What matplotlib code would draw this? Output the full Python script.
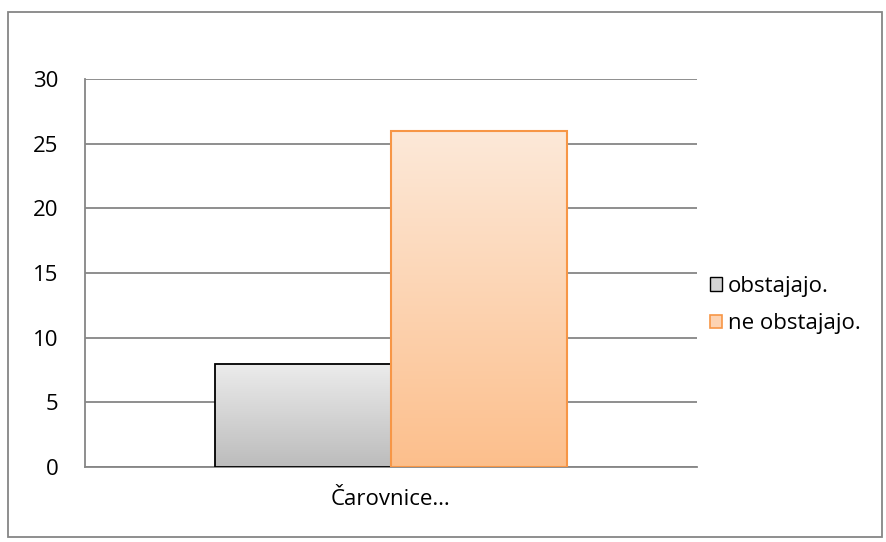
import numpy as np
import matplotlib
matplotlib.use('Agg')
import matplotlib.pyplot as plt
from matplotlib.patches import Rectangle, Patch
from matplotlib.colors import LinearSegmentedColormap

plt.rcParams['font.family'] = ['Open Sans', 'DejaVu Sans']

# data
category = 'Čarovnice…'
series = ['obstajajo.', 'ne obstajajo.']
values = [8, 26]
yticks = [0, 5, 10, 15, 20, 25, 30]

# styles: (top colour, bottom colour, edge colour)
styles = [('#ececec', '#bcbcbc', '#000000'),
          ('#fde9d9', '#fcbf8c', '#f79646')]

fig = plt.figure(figsize=(8.87, 5.42), dpi=100)
ax = fig.add_axes([85/887, 1 - 467/542, 612/887, 388/542])

# outer chart border
fig.patches.append(Rectangle((8/887, 5/542), 874/887, 525/542, transform=fig.transFigure,
                             fill=False, edgecolor='#868686', lw=1.3))

width = 0.287
offsets = [-width/2, width/2]
grad = np.linspace(0, 1, 256).reshape(-1, 1)
for i, (v, st) in enumerate(zip(values, styles)):
    x0 = offsets[i] - width/2
    cmap = LinearSegmentedColormap.from_list('g%d' % i, [st[0], st[1]])
    ax.imshow(grad, extent=[x0, x0 + width, 0, v], aspect='auto', cmap=cmap,
              origin='upper', zorder=3)
    ax.bar(offsets[i], v, width, facecolor='none', edgecolor=st[2],
           lw=1.3 if i == 0 else 1.5, zorder=4)

ax.set_xlim(-0.5, 0.5)
ax.set_ylim(0, 30)
ax.set_yticks(yticks)
ax.set_xticks([0])
ax.set_xticklabels([category])
ax.tick_params(length=0, labelsize=16, colors='#000000')
ax.tick_params(axis='y', pad=19)
ax.tick_params(axis='x', pad=16)
ax.grid(axis='y', color='#868686', lw=1.3, zorder=0)
ax.set_axisbelow(True)
for s in ['top', 'right']:
    ax.spines[s].set_visible(False)
for s in ['left', 'bottom']:
    ax.spines[s].set_color('#868686')
    ax.spines[s].set_linewidth(1.3)

handles = [Patch(facecolor='#d4d4d4', edgecolor='#000000', lw=1.0, label=series[0]),
           Patch(facecolor='#fdd3b2', edgecolor='#f79646', lw=1.2, label=series[1])]
fig.legend(handles=handles, loc='center left', bbox_to_anchor=(699/887, 1 - 305/542),
           frameon=False, fontsize=16, handlelength=0.55, handleheight=0.55,
           handletextpad=0.25, labelspacing=0.75, borderpad=0)

fig.savefig('out.png', dpi=100)
